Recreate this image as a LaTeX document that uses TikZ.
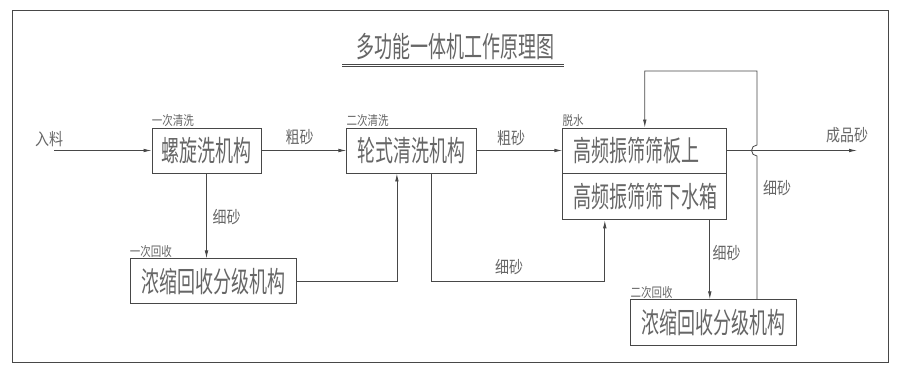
\documentclass[tikz,border=0pt]{standalone}
\usepackage{fontspec}
\newfontfamily\cjk{Noto Sans CJK SC}
\usepackage{graphicx}
\usepackage{xcolor}
\usepackage{tikz}
\usetikzlibrary{arrows.meta,positioning,calc}
\definecolor{linha}{gray}{0.28}
\definecolor{texto}{gray}{0.40}
\newcommand{\alto}[2][1.6]{\scalebox{1}[#1]{#2}}
\tikzset{
    bloco/.style={
        rectangle,
        draw=linha,
        line width=0.9pt,
        inner sep=0pt,
        minimum height=45pt,
        text=texto,
        font=\cjk\fontsize{18}{18}\selectfont
    },
    blocoEsq/.style={bloco, align=left},
    etapa/.style={anchor=south west, inner sep=0pt, yshift=1pt, text=texto,
        font=\cjk\fontsize{10.5}{10.5}\selectfont},
    rotulo/.style={inner sep=0pt, text=texto, font=\cjk\fontsize{14}{14}\selectfont},
    fluxo/.style={-{Latex[length=8pt,width=3.6pt]}, draw=linha, line width=0.8pt},
    traco/.style={draw=linha, line width=0.8pt}
}

\begin{document}
\begin{tikzpicture}[x=1pt, y=1pt]
        \useasboundingbox (0,0) rectangle (900,373);
        \draw[linha, line width=1pt] (12,11) rectangle (888,362);

        % titulo
        \node[rotulo, font=\cjk\fontsize{18}{18}\selectfont] (titulo) at (455,326)
            {\alto{多功能一体机工作原理图}};
        \draw[traco] (342,308.5) -- (564,308.5);
        \draw[traco] (342,306.2) -- (564,306.2);

        % blocos
        \node[bloco, minimum width=109pt] (espiral) at (206.5,222.5)
            {\alto{螺旋洗机构}};
        \node[bloco, minimum width=130pt, right=85pt of espiral] (roda)
            {\alto{轮式清洗机构}};
        \node[blocoEsq, minimum width=164pt, text width=142pt, right=85pt of roda] (peneira)
            {\alto{高频振筛筛板上}};
        \node[blocoEsq, minimum width=164pt, text width=142pt, minimum height=46pt,
            below=0pt of peneira] (tanque)
            {\alto{高频振筛筛下水箱}};
        \node[bloco, minimum width=166pt, below=85pt of espiral, xshift=6.5pt] (rec1)
            {\alto{浓缩回收分级机构}};
        \node[bloco, minimum width=166pt, minimum height=46pt,
            below=79pt of tanque, xshift=69pt] (rec2)
            {\alto{浓缩回收分级机构}};

        % etapas
        \node[etapa] (e1) at (espiral.north west) {\alto[1.25]{一次清洗}};
        \node[etapa] (e2) at (roda.north west) {\alto[1.25]{二次清洗}};
        \node[etapa] (e3) at (peneira.north west) {\alto[1.25]{脱水}};
        \node[etapa] (e4) at (rec1.north west) {\alto[1.25]{一次回收}};
        \node[etapa] (e5) at (rec2.north west) {\alto[1.25]{二次回收}};

        % pontos livres
        \coordinate (inicio) at (54,222.5);
        \coordinate (saida) at (857,222.5);
        \coordinate (salto) at (757,222.5);

        % fluxos
        \draw[fluxo] (inicio) -- (espiral);
        \draw[fluxo] (espiral) -- (roda);
        \draw[fluxo] (roda) -- (peneira);
        \draw[fluxo] (peneira) -- (saida);
        \draw[fluxo] (espiral.south) -- (espiral.south |- rec1.north);
        \draw[fluxo] (rec1.east) -| ([xshift=-15pt]roda.south);
        \draw[fluxo] ([xshift=19pt]roda.south) |- ([xshift=-40pt]tanque.south |- rec1.east)
            -- ([xshift=-40pt]tanque.south);
        \draw[fluxo] ([xshift=65pt]tanque.south) -- ([xshift=65pt]tanque.south |- rec2.north);
        \draw[fluxo] (rec2.north -| salto) -- ([yshift=-5.5pt]salto)
            arc[start angle=270, end angle=90, radius=5.5pt]
            -- ++(0,74) -| (peneira.north);

        % rotulos
        \node[rotulo] (l1) at (49,233.5) {\alto[1.2]{入料}};
        \node[rotulo] (l2) at (299.5,235.5) {\alto[1.2]{粗砂}};
        \node[rotulo] (l3) at (511,234.5) {\alto[1.2]{粗砂}};
        \node[rotulo] (l4) at (847,238) {\alto[1.2]{成品砂}};
        \node[rotulo] (l5) at (226.5,156) {\alto[1.2]{细砂}};
        \node[rotulo] (l6) at (509,106) {\alto[1.2]{细砂}};
        \node[rotulo] (l7) at (726.5,120) {\alto[1.2]{细砂}};
        \node[rotulo] (l8) at (777,184.5) {\alto[1.2]{细砂}};
    \end{tikzpicture}
\end{document}
